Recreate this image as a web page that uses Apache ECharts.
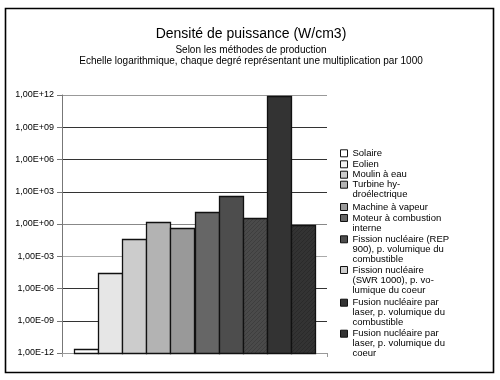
<!DOCTYPE html>
<html>
<head>
<meta charset="utf-8">
<script src="https://cdn.jsdelivr.net/npm/echarts@6/dist/echarts.min.js"></script>
<style>html,body{margin:0;padding:0;background:#fff;}#c{width:500px;height:380px;}</style>
</head>
<body>
<div id="c"></div>
<script>
const seriesNames = [
  "Solaire",
  "Eolien",
  "Moulin à eau",
  "Turbine hy-\ndroélectrique",
  "Machine à vapeur",
  "Moteur à combustion\ninterne",
  "Fission nucléaire (REP\n900), p. volumique du\ncombustible",
  "Fission nucléaire\n(SWR 1000), p. vo-\nlumique du coeur",
  "Fusion nucléaire par\nlaser, p. volumique du\ncombustible",
  "Fusion nucléaire par\nlaser, p. volumique du\ncoeur"
];
const seriesValues = [2.5e-12, 2.6e-5, 0.043, 1.5, 0.45, 13, 400, 3.9, 8.5e11, 0.8];
const categories = [""];
const yTickExponents = [-12, -9, -6, -3, 0, 3, 6, 9, 12];

const barColors = ['#ffffff','#e6e6e6','#cccccc','#b3b3b3','#999999','#666666','#4d4d4d','#4a4a4a','#333333','#333333'];
const legendIconColors = ['#ffffff','#f2f2f2','#cccccc','#b3b3b3','#999999','#666666','#4d4d4d','#cccccc','#333333','#333333'];
const hatched = [false,false,false,false,false,false,false,true,false,true];
const legendCenters = [153.3, 164.3, 174.7, 184.7, 207, 218, 239.3, 270, 302.7, 333.7];
const LH = 10;
const FONT = '"Liberation Sans", Arial, sans-serif';
const CAT_FILL = 0.906;
const Y_MIN = Math.pow(10, yTickExponents[0]);
const Y_MAX = Math.pow(10, yTickExponents[yTickExponents.length - 1]);

function fmt(v) {
  const e = Math.round(Math.log10(v));
  const s = e < 0 ? '-' : '+';
  const a = Math.abs(e);
  return '1,00E' + s + (a < 10 ? '0' + a : a);
}

function hatchPattern(base, line) {
  const c = document.createElement('canvas');
  c.width = 4; c.height = 4;
  const g = c.getContext('2d');
  g.fillStyle = base; g.fillRect(0, 0, 4, 4);
  g.strokeStyle = line; g.lineWidth = 1;
  g.beginPath();
  g.moveTo(0, 4); g.lineTo(4, 0);
  g.moveTo(-2, 2); g.lineTo(2, -2);
  g.moveTo(2, 6); g.lineTo(6, 2);
  g.stroke();
  return { image: c, repeat: 'repeat' };
}

const nSeries = seriesNames.length;
const series = seriesNames.map((n, i) => ({
  name: n,
  type: 'custom',
  data: [[0, seriesValues[i]]],
  encode: { x: 0, y: 1 },
  silent: true,
  animation: false,
  renderItem: function (params, api) {
    const top = api.coord([api.value(0), api.value(1)]);
    const bottom = api.coord([api.value(0), Y_MIN]);
    const band = api.size([1, 0])[0];
    const barW = band * CAT_FILL / nSeries;
    const x0 = top[0] - band * CAT_FILL / 2 + i * barW;
    const fill = hatched[i] ? hatchPattern(barColors[i], 'rgba(0,0,0,0.16)') : barColors[i];
    return {
      type: 'rect',
      shape: { x: Math.round(x0) + 0.5, y: Math.round(top[1]) + 0.5, width: Math.round(barW), height: Math.round(bottom[1]) - Math.round(top[1]) },
      style: { fill: fill, stroke: '#111', lineWidth: 1.3 }
    };
  }
}));

const legends = seriesNames.map((n, i) => {
  const lines = n.split('\n').length;
  return {
    data: [{ name: n, itemStyle: { color: legendIconColors[i], borderColor: '#111', borderWidth: 1 } }],
    orient: 'vertical',
    left: 340,
    top: legendCenters[i] - (2 * lines - 1) * LH / 2,
    padding: 0,
    itemWidth: 7,
    itemHeight: 7,
    icon: 'rect',
    selectedMode: false,
    formatter: function (name) { return '\n'.repeat(lines - 1) + name; },
    textStyle: { fontSize: 9.5, lineHeight: LH, color: '#000', fontFamily: FONT }
  };
});

const chart = echarts.init(document.getElementById('c'), null, { renderer: 'canvas' });
chart.setOption({
  backgroundColor: '#fff',
  animation: false,
  textStyle: { fontFamily: FONT },
  title: {
    text: 'Densité de puissance (W/cm3)',
    subtext: 'Selon les méthodes de production\nEchelle logarithmique, chaque degré représentant une multiplication par 1000',
    left: 246,
    textAlign: 'center',
    top: 22,
    itemGap: 4,
    textStyle: { fontSize: 14, fontWeight: 'normal', color: '#000', fontFamily: FONT },
    subtextStyle: { fontSize: 10, lineHeight: 11, color: '#000', fontFamily: FONT }
  },
  legend: legends,
  grid: { left: 62, right: 173, top: 95, bottom: 27, containLabel: false },
  xAxis: {
    type: 'category',
    data: categories,
    axisLine: { lineStyle: { color: '#999', width: 1 } },
    axisTick: { show: true, length: 4, lineStyle: { color: '#999' } },
    axisLabel: { show: false },
    splitLine: { show: false }
  },
  yAxis: {
    type: 'log',
    logBase: 1000,
    min: Y_MIN,
    max: Y_MAX,
    interval: 1,
    axisLine: { show: true, lineStyle: { color: '#777', width: 1 } },
    axisTick: { show: true, length: 5, lineStyle: { color: '#777' } },
    axisLabel: { fontSize: 9, color: '#000', margin: 8, fontFamily: FONT, formatter: fmt },
    splitLine: { show: true, lineStyle: { color: ['#999','#333','#333','#aaa','#888','#333','#333','#333','#999'], width: 1 } },
    minorTick: { show: false }
  },
  graphic: [{
    type: 'rect',
    shape: { x: 5.5, y: 8.5, width: 488, height: 364 },
    style: { fill: 'none', stroke: '#000', lineWidth: 1.6 },
    silent: true
  }],
  series: series
});
</script>
</body>
</html>
